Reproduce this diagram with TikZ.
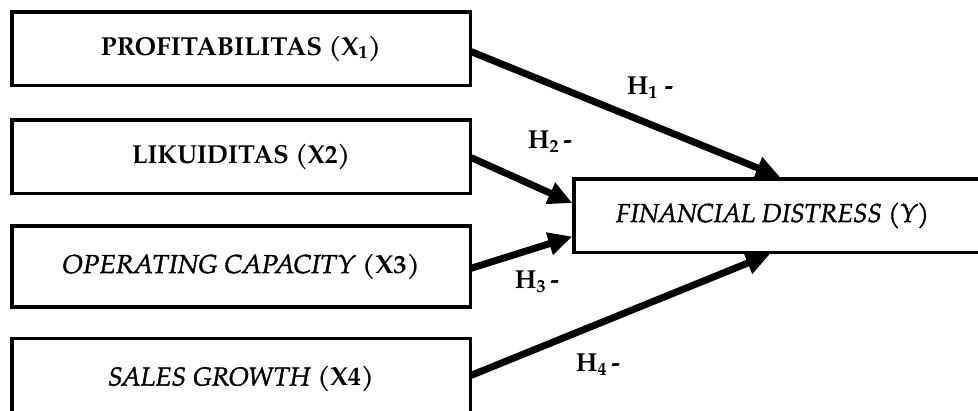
\documentclass[tikz,border=0pt]{standalone}
\usepackage{graphicx}
\usepackage{fontspec}
\setmainfont{texgyrepagella}[Extension=.otf, UprightFont=*-regular, BoldFont=*-bold, ItalicFont=*-italic, BoldItalicFont=*-bolditalic, ItalicFeatures={FakeBold=1.6}]
\usetikzlibrary{arrows.meta,calc}
% set a label to a fixed printed width, keeping its height
\newcommand{\fitw}[2]{\resizebox{#1}{\height}{#2}}
\tikzset{
  varbox/.style={draw=black, line width=3.5pt, fill=white, rectangle, inner sep=0pt,
    minimum width=458.5pt, font=\fontsize{26}{30}\selectfont},
  hyparrow/.style={line width=7pt, -{Triangle[length=24pt,width=22pt]}, shorten <=-1pt},
  hyplabel/.style={font=\bfseries\fontsize{26}{30}\selectfont, inner sep=0pt}
}
\begin{document}
\begin{tikzpicture}[x=1pt,y=-1pt]
  \useasboundingbox (0,0) rectangle (978,410);
  % independent variables
  \node[varbox, minimum height=73.5pt] (x1) at (241,48.5)
    {\fitw{280pt}{\textbf{PROFITABILITAS (X\textsubscript{1})}}};
  \node[varbox, minimum height=73.5pt] (x2) at (241,156.5)
    {\fitw{218pt}{\textbf{LIKUIDITAS (X2)}}};
  \node[varbox, minimum height=81pt] (x3) at (241,266.5)
    {\fitw{358pt}{\textit{OPERATING CAPACITY} \textbf{(X3)}}};
  \node[varbox, minimum height=81pt] (x4) at (241,379)
    {\fitw{266pt}{\textit{SALES GROWTH} \textbf{(X4)}}};
  % dependent variable
  \node[varbox, minimum width=416pt, minimum height=73.5pt] (y) at (782,215.5)
    {\makebox[416pt][l]{\hspace{42pt}\fitw{313pt}{\textit{FINANCIAL DISTRESS (Y)}}}};
  % hypotheses
  \draw[hyparrow] ([yshift=-3.5pt]x1.east) -- ([xshift=-2pt]y.north);
  \draw[hyparrow] ([yshift=-1.5pt]x2.east) -- ([yshift=12.5pt]y.west);
  \draw[hyparrow] ([yshift=-1.5pt]x3.east) -- ([yshift=-21pt]y.west);
  \draw[hyparrow] ([yshift=4pt]x4.east) -- ([xshift=-12pt]y.south);
  \node[hyplabel] (h1) at (650,88) {H\textsubscript{1} -};
  \node[hyplabel] (h2) at (550,142) {H\textsubscript{2}\,-};
  \node[hyplabel] (h3) at (537,282) {H\textsubscript{3}\,-};
  \node[hyplabel] (h4) at (598,365) {H\textsubscript{4}\,-};
\end{tikzpicture}
\end{document}
